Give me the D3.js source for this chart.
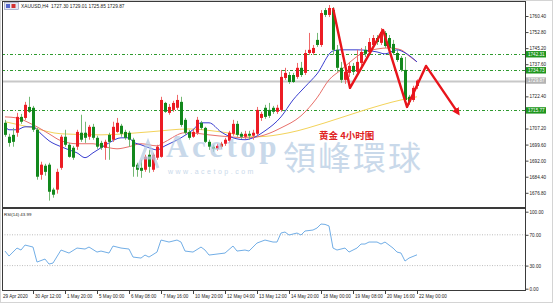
<!DOCTYPE html>
<html>
<head>
<meta charset="utf-8">
<script src="https://cdn.jsdelivr.net/npm/d3@7"></script>
<style>
  body { margin: 0; background: #fff; }
  svg { display: block; }
</style>
</head>
<body>
<script>
// XAUUSD H4
const opens = [1709.9,1703.3,1704.2,1705.2,1712.7,1712.2,1717.4,1717.0,1706.6,1685.3,
  1689.6,1690.1,1678.3,1678.3,1688.6,1703.3,1699.5,1698.1,1698.6,1705.2,
  1705.2,1703.3,1708.0,1702.8,1700.4,1698.1,1704.2,1701.9,1705.6,1708.5,
  1705.6,1705.2,1701.9,1690.1,1688.6,1687.7,1694.8,1687.7,1693.4,1693.8,
  1719.3,1714.6,1716.0,1717.0,1719.8,1711.3,1705.6,1703.3,1705.2,1709.9,
  1707.5,1700.9,1698.6,1697.6,1698.6,1700.0,1701.4,1704.7,1709.4,1704.7,
  1703.3,1704.7,1703.8,1704.7,1712.2,1717.0,1716.0,1717.0,1715.1,1716.0,
  1731.1,1732.5,1732.5,1731.6,1735.9,1733.5,1742.9,1742.9,1749.1,1746.7,
  1763.2,1760.9,1763.2,1744.4,1735.9,1730.2,1733.5,1736.8,1734.0,1738.2,
  1744.4,1743.4,1746.7,1750.0,1747.7,1752.4,1750.0,1747.2,1742.9,1740.6,
  1734.9,1722.2,1720.7,1727.3];
const highs = [1711.3,1704.7,1707.5,1714.6,1714.1,1719.8,1722.2,1717.9,1707.5,1691.5,
  1690.5,1691.0,1679.2,1688.2,1704.2,1706.6,1700.4,1699.0,1706.6,1713.7,
  1710.4,1708.9,1709.4,1703.8,1701.4,1701.9,1705.2,1710.4,1712.2,1709.4,
  1706.6,1706.1,1702.8,1691.0,1692.4,1694.8,1697.1,1695.7,1699.5,1722.2,
  1719.8,1718.8,1720.3,1723.1,1722.2,1712.2,1706.6,1706.6,1712.7,1710.8,
  1708.0,1701.9,1699.5,1700.0,1700.9,1702.8,1706.1,1711.3,1710.8,1705.6,
  1706.1,1706.1,1706.6,1717.4,1715.1,1718.4,1719.3,1717.9,1718.4,1734.9,
  1735.9,1733.9,1733.5,1738.2,1738.7,1744.4,1752.4,1746.7,1752.4,1763.2,
  1764.2,1765.6,1764.6,1746.7,1738.7,1734.9,1738.7,1738.2,1744.4,1745.3,
  1746.2,1750.0,1751.4,1751.4,1754.7,1753.3,1751.4,1749.1,1744.4,1741.5,
  1741.0,1723.1,1727.4,1730.4];
const lows = [1703.3,1698.6,1698.6,1703.3,1709.4,1711.3,1714.6,1705.6,1683.0,1683.0,
  1684.9,1673.1,1674.5,1676.4,1687.7,1698.6,1693.4,1692.4,1697.1,1700.9,
  1700.4,1701.9,1701.9,1697.6,1697.1,1692.4,1692.4,1700.9,1705.2,1703.3,
  1701.9,1698.6,1684.4,1684.4,1683.9,1686.7,1686.3,1686.7,1692.4,1693.4,
  1714.6,1713.7,1715.1,1716.0,1708.0,1704.2,1701.9,1702.8,1704.2,1706.6,
  1700.4,1697.1,1696.2,1696.7,1697.6,1699.0,1700.4,1703.8,1703.3,1702.3,
  1702.3,1701.9,1701.9,1703.8,1710.8,1711.8,1712.2,1714.1,1714.1,1715.1,
  1730.2,1728.3,1728.8,1730.7,1731.6,1732.5,1742.0,1742.0,1745.8,1745.8,
  1759.9,1759.9,1742.0,1734.0,1728.8,1728.3,1731.6,1732.5,1733.0,1736.8,
  1741.0,1742.5,1745.3,1746.7,1746.7,1745.3,1743.9,1742.0,1738.7,1734.0,
  1718.8,1718.4,1719.8,1725.85];
const closes = [1704.2,1700.4,1700.9,1712.7,1710.4,1718.4,1715.1,1706.6,1684.4,1690.1,
  1686.7,1677.3,1675.9,1686.7,1703.3,1699.5,1693.8,1693.4,1705.6,1701.9,
  1702.8,1708.0,1702.8,1698.6,1698.1,1700.9,1700.9,1708.0,1709.9,1704.7,
  1702.8,1701.9,1689.1,1687.7,1687.2,1693.8,1689.1,1694.8,1698.6,1720.7,
  1715.1,1717.4,1719.3,1720.7,1708.9,1705.2,1702.8,1705.6,1711.3,1707.5,
  1700.9,1698.6,1697.6,1699.0,1700.0,1701.9,1705.2,1709.4,1704.2,1703.3,
  1704.7,1703.8,1705.2,1716.0,1714.1,1712.7,1713.2,1715.1,1717.0,1731.6,
  1733.5,1729.2,1729.2,1735.9,1732.5,1742.9,1744.4,1745.3,1746.7,1761.8,
  1760.9,1764.2,1744.4,1735.9,1730.2,1734.0,1736.8,1734.0,1738.7,1743.4,
  1742.5,1748.1,1750.0,1748.1,1752.8,1746.2,1745.3,1742.9,1739.6,1734.9,
  1720.7,1719.8,1726.4,1729.87];

// moving averages (bar index -> value)
const maFastIdx = [0,1,3,5,7,9,11,14,16,18,20,22,24,26,29,31,32,34,36,38,40,44,47,49,51,54,57,60,62,65,69,72,75,78,82,84,88,93,95,98,100,103];
const maFastVal = [1708.5,1706.6,1706.6,1708.0,1708.0,1704.7,1701.4,1698.6,1697.1,1695.7,1693.4,1695.7,1698.1,1700.4,1702.8,1702.8,1700.9,1699.5,1698.1,1697.1,1699.0,1702.8,1706.6,1709.9,1709.9,1705.6,1702.8,1701.9,1702.8,1706.1,1712.7,1720.7,1726.9,1733.0,1743.9,1744.4,1744.4,1743.4,1742.5,1744.4,1743.0,1738.7];
const maMidIdx = [0,3,6,8,11,14,18,22,26,28,31,34,38,40,45,49,51,56,61,65,69,74,78,81,84,86,89,93,96,99,101,103];
const maMidVal = [1712.7,1712.2,1709.9,1708.0,1704.7,1701.4,1700.0,1700.0,1698.1,1697.6,1698.6,1700.0,1699.0,1700.9,1705.2,1704.7,1704.2,1703.3,1702.8,1704.2,1707.5,1713.2,1721.7,1730.2,1734.9,1738.2,1742.5,1744.8,1745.3,1744.4,1741.5,1738.7];
const maSlowIdx = [0,7,14,24,36,46,54,63,71,80,90,99,103];
const maSlowVal = [1710.4,1707.5,1704.7,1704.2,1705.6,1707.0,1705.6,1703.3,1705.2,1709.9,1716.0,1720.7,1722.2];

// RSI(14)
const rsiIdx = [0,1,3,4,5,7,8,10,11,12,14,16,18,20,21,23,24,26,27,29,31,32,34,35,36,38,39,41,43,44,45,47,49,50,51,53,55,57,58,60,61,63,65,67,68,69,70,71,73,74,75,77,78,79,80,81,82,83,85,86,88,89,90,91,93,94,95,97,98,99,100,101,103];
const rsiVal = [48.9,42.4,52.8,50.2,56.7,54.1,34.6,38.5,32.0,33.3,50.2,46.3,52.8,51.5,54.1,47.6,48.9,46.3,55.4,52.8,51.5,41.1,39.8,43.7,41.1,47.6,63.2,60.6,63.2,60.6,48.9,47.6,54.1,50.2,43.7,45.0,46.3,55.4,48.9,50.2,48.9,59.3,63.2,60.6,60.6,72.3,73.6,69.7,72.3,69.7,74.9,76.2,78.8,84.0,83.5,81.5,52.8,50.2,52.8,47.6,52.8,58.0,58.0,60.6,60.6,58.0,60.6,52.8,47.6,46.3,35.9,39.8,43.99];

// horizontal levels and forecast zigzag
const levels = [1742.31, 1734.73, 1715.77];
const lastPrice = 1729.87;
const zigIdx = [82, 86.25, 94.5, 100.5, 105.25, 113.25];
const zigPrice = [1764.2, 1726.4, 1753.8, 1717.4, 1736.8, 1714.6];

// axis labels (1730.00 and 1714.80 sit under the price tags)
const priceTicks = [1760.40, 1752.80, 1745.20, 1737.60, 1722.40, 1707.20, 1699.60, 1692.00, 1684.40, 1676.80];
const rsiTicks = [100, 70, 30, 0];
const timeLabels = ['30 Apr 12:00','1 May 20:00','5 May 00:00','6 May 08:00','7 May 16:00','10 May 20:00','12 May 04:00','13 May 12:00','14 May 20:00','18 May 00:00','19 May 08:00','20 May 16:00','22 May 00:00'];
const timeIdx = [7,15,23,31,39,47,55,63,71,79,87,95,103];
const firstLabel = '29 Apr 2020';
const title = 'XAUUSD,H4  1727.30 1729.01 1725.85 1729.87';
const rsiTitle = 'RSI(14) 43.99';

const W = 553, H = 303;
const main = { left: 2, right: 525, top: 1, bottom: 207 };
const sub = { top: 209, bottom: 291 };

const svg = d3.select('body').append('svg')
    .attr('width', W).attr('height', H)
    .style('font-family', '"Liberation Sans", Arial, sans-serif');

svg.append('rect').attr('width', W).attr('height', H).attr('fill', '#fff');

const x = d3.scaleLinear().domain([0, 103]).range([5, 417]);
const y = d3.scaleLinear().domain([1676.8, 1760.4]).range([192.8, 16]);
const yr = d3.scaleLinear().domain([0, 100]).range([288.7, 211.7]);

const defs = svg.append('defs');
defs.append('clipPath').attr('id', 'clipMain')
    .append('rect')
    .attr('x', main.left).attr('y', main.top)
    .attr('width', main.right - main.left).attr('height', main.bottom - main.top);
defs.append('clipPath').attr('id', 'clipSub')
    .append('rect')
    .attr('x', main.left).attr('y', sub.top)
    .attr('width', main.right - main.left).attr('height', sub.bottom - sub.top);
defs.append('marker')
    .attr('id', 'arrow')
    .attr('viewBox', '0 0 10 10')
    .attr('refX', 6).attr('refY', 5)
    .attr('markerWidth', 3.2).attr('markerHeight', 3.2)
    .attr('orient', 'auto')
    .append('path').attr('d', 'M0,0 L10,5 L0,10 z').attr('fill', '#e8141b');

const g = svg.append('g').attr('clip-path', 'url(#clipMain)');

// horizontal levels
g.selectAll('line.level').data(levels).join('line')
    .attr('class', 'level')
    .attr('x1', main.left).attr('x2', main.right)
    .attr('y1', d => Math.round(y(d)) + 0.5).attr('y2', d => Math.round(y(d)) + 0.5)
    .attr('stroke', '#2f9a2f').attr('stroke-width', 1)
    .attr('stroke-dasharray', '3,2,1,2');

// bid line
g.append('line')
    .attr('x1', main.left).attr('x2', main.right)
    .attr('y1', y(lastPrice) + 1).attr('y2', y(lastPrice) + 1)
    .attr('stroke', '#c8c8c8').attr('stroke-width', 2);

// moving averages
const maLine = d3.line().curve(d3.curveMonotoneX).x(d => x(d[0])).y(d => y(d[1]));
const maSeries = [
    { idx: maSlowIdx, val: maSlowVal, color: '#f3d35a' },
    { idx: maMidIdx, val: maMidVal, color: '#e8706a' },
    { idx: maFastIdx, val: maFastVal, color: '#3b3fd0' },
];
maSeries.forEach(s => {
    g.append('path')
        .datum(s.idx.map((d, k) => [d, s.val[k]]))
        .attr('fill', 'none')
        .attr('stroke', s.color)
        .attr('stroke-width', 1)
        .attr('d', maLine);
});

// candles
const bars = d3.range(opens.length).map(i => ({ i, o: opens[i], h: highs[i], l: lows[i], c: closes[i] }));
const up = d => d.c >= d.o;
g.selectAll('line.wick').data(bars).join('line')
    .attr('class', 'wick')
    .attr('x1', d => x(d.i) + 0.5).attr('x2', d => x(d.i) + 0.5)
    .attr('y1', d => y(d.h)).attr('y2', d => y(d.l))
    .attr('stroke', d => up(d) ? '#ef6a6a' : '#74b874')
    .attr('stroke-width', 1);
g.selectAll('rect.body').data(bars).join('rect')
    .attr('class', 'body')
    .attr('x', d => x(d.i) - 1).attr('width', 3)
    .attr('y', d => y(Math.max(d.o, d.c)))
    .attr('height', d => Math.max(1, Math.abs(y(d.o) - y(d.c))))
    .attr('fill', d => up(d) ? '#ec1c24' : '#12881c');

// forecast zigzag
g.append('path')
    .datum(zigIdx.map((d, k) => [d, zigPrice[k]]))
    .attr('fill', 'none')
    .attr('stroke', '#e8141b')
    .attr('stroke-width', 2.4)
    .attr('stroke-linejoin', 'round')
    .attr('marker-end', 'url(#arrow)')
    .attr('d', d3.line().x(d => x(d[0])).y(d => y(d[1])));

// watermark
const wm = svg.append('g').attr('opacity', 0.75);
wm.append('path')
    .attr('d', 'M138,168 L148,142 L158,168 M142,158 L154,158')
    .attr('fill', 'none').attr('stroke', '#b7cde4').attr('stroke-width', 3);
wm.append('text')
    .attr('x', 166).attr('y', 157)
    .attr('font-family', '"Liberation Serif", "DejaVu Serif", serif')
    .attr('font-size', 31).attr('font-weight', 'bold')
    .attr('letter-spacing', 3.5)
    .attr('fill', '#b7cde4')
    .text('Acetop');
wm.append('text')
    .attr('x', 283).attr('y', 170)
    .attr('font-family', '"Noto Sans CJK TC", "Noto Sans CJK SC", sans-serif')
    .attr('font-size', 33).attr('letter-spacing', 2).attr('fill', '#b7cde4')
    .text('領峰環球');
wm.append('text')
    .attr('x', 168).attr('y', 173.5)
    .attr('font-size', 7).attr('letter-spacing', 2.5).attr('fill', '#b7cde4')
    .text('www.acetop.com');

svg.append('text')
    .attr('x', 319).attr('y', 139)
    .attr('font-family', '"Noto Sans CJK SC", sans-serif')
    .attr('font-size', 9.5).attr('font-weight', 'bold')
    .attr('fill', '#e02424')
    .text('黄金 4小时图');

// RSI panel
const gs = svg.append('g').attr('clip-path', 'url(#clipSub)');
gs.selectAll('line.rl').data([70, 30]).join('line')
    .attr('x1', main.left).attr('x2', main.right)
    .attr('y1', d => yr(d)).attr('y2', d => yr(d))
    .attr('stroke', '#bdbdbd').attr('stroke-width', 1)
    .attr('stroke-dasharray', '1,1.5');
gs.append('path')
    .datum(rsiIdx.map((d, k) => [d, rsiVal[k]]))
    .attr('fill', 'none')
    .attr('stroke', '#72aee6')
    .attr('stroke-width', 1)
    .attr('d', d3.line().x(d => x(d[0])).y(d => yr(d[1])));

// frames
svg.append('rect')
    .attr('x', main.left + 0.5).attr('y', main.top + 0.5)
    .attr('width', main.right - main.left).attr('height', main.bottom - main.top)
    .attr('fill', 'none').attr('stroke', '#3a3a3a');
svg.append('rect')
    .attr('x', main.left + 0.5).attr('y', sub.top - 0.5)
    .attr('width', main.right - main.left).attr('height', sub.bottom - sub.top)
    .attr('fill', 'none').attr('stroke', '#3a3a3a');
svg.append('rect')
    .attr('x', 0.5).attr('y', 0.5).attr('width', W - 1).attr('height', H - 1)
    .attr('fill', 'none').attr('stroke', '#d4d4d4');

// price axis
const yAxis = d3.axisRight(y).tickValues(priceTicks).tickFormat(d3.format('.2f')).tickSize(3).tickPadding(1);
svg.append('g')
    .attr('transform', `translate(${main.right + 0.5},0)`)
    .call(yAxis)
    .call(a => a.select('.domain').remove())
    .call(a => a.selectAll('text').attr('font-size', 4.6).attr('fill', '#222').attr('font-family', null))
    .call(a => a.selectAll('line').attr('stroke', '#444'));

const rAxis = d3.axisRight(yr).tickValues(rsiTicks).tickFormat(d3.format('.2f')).tickSize(3).tickPadding(1);
svg.append('g')
    .attr('transform', `translate(${main.right + 0.5},0)`)
    .call(rAxis)
    .call(a => a.select('.domain').remove())
    .call(a => a.selectAll('text').attr('font-size', 4.6).attr('fill', '#222').attr('font-family', null))
    .call(a => a.selectAll('line').attr('stroke', '#444'));

// level price tags
const tags = levels.map(v => ({ v, bg: '#1e961e' })).concat([{ v: lastPrice, bg: '#b4b4b4' }]);
const tg = svg.append('g').selectAll('g').data(tags).join('g')
    .attr('transform', d => `translate(${main.right + 1},${y(d.v)})`);
tg.append('rect').attr('x', 0).attr('y', -3.2).attr('width', 20).attr('height', 6.4).attr('fill', d => d.bg);
tg.append('text').attr('x', 2).attr('y', 1.7)
    .attr('font-size', 4.6).attr('fill', '#fff')
    .text(d => d3.format('.2f')(d.v));

// time axis
const tx = svg.append('g');
tx.selectAll('line').data(timeIdx).join('line')
    .attr('x1', d => x(d) + 0.5).attr('x2', d => x(d) + 0.5)
    .attr('y1', sub.bottom).attr('y2', sub.bottom + 3)
    .attr('stroke', '#444');
tx.selectAll('text').data(timeLabels).join('text')
    .attr('x', (d, k) => x(timeIdx[k]) + 2)
    .attr('y', 298)
    .attr('font-size', 4.6).attr('fill', '#222')
    .text(d => d);
tx.append('text')
    .attr('x', x(0) - 2).attr('y', 298)
    .attr('font-size', 4.6).attr('fill', '#222')
    .text(firstLabel);

// header
const hd = svg.append('g');
hd.append('rect').attr('x', 4.5).attr('y', 2.5).attr('width', 14).attr('height', 7)
    .attr('fill', '#e4e7f2').attr('stroke', '#8a90b4').attr('stroke-width', 0.6);
hd.append('rect').attr('x', 6).attr('y', 4).attr('width', 4).attr('height', 4).attr('fill', '#5566cc');
hd.append('rect').attr('x', 11.5).attr('y', 4).attr('width', 4).attr('height', 4).attr('fill', '#d43030');
hd.append('text').attr('x', 21).attr('y', 8)
    .attr('font-size', 4.8).attr('fill', '#222')
    .attr('xml:space', 'preserve')
    .text(title);
svg.append('text').attr('x', 4).attr('y', 215.5)
    .attr('font-size', 4.4).attr('fill', '#222')
    .text(rsiTitle);
</script>
</body>
</html>
